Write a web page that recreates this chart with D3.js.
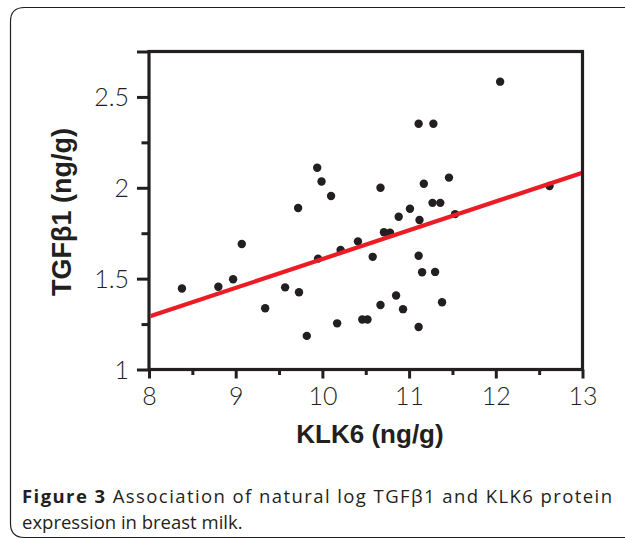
<!DOCTYPE html>
<html>
<head>
<meta charset="utf-8">
<script src="https://cdn.jsdelivr.net/npm/d3@7"></script>
<style>
  html, body { margin: 0; padding: 0; background: #fff; }
  svg { display: block; }
</style>
</head>
<body>
<svg id="chart" width="625" height="542"></svg>
<script>
// ---- data ----
const klk6 = [8.38, 8.80, 8.97, 9.07, 9.34, 9.57, 9.72, 9.73, 9.82, 9.94, 9.99, 9.95, 10.10, 10.17,
  10.21, 10.41, 10.46, 10.52, 10.58, 10.67, 10.67, 10.71, 10.78, 10.85, 10.88, 10.93, 11.01,
  11.11, 11.12, 11.11, 11.11, 11.17, 11.15, 11.28, 11.27, 11.36, 11.30, 11.38, 11.46, 11.53,
  12.05, 12.62];
const tgfb1 = [1.446, 1.455, 1.497, 1.691, 1.337, 1.452, 1.889, 1.425, 1.185, 2.110, 2.035, 1.610,
  1.955, 1.254, 1.658, 1.705, 1.275, 1.275, 1.620, 1.355, 2.000, 1.755, 1.753, 1.407, 1.841,
  1.332, 1.885, 2.352, 1.823, 1.626, 1.234, 2.022, 1.535, 2.352, 1.917, 1.917, 1.537, 1.370,
  2.056, 1.855, 2.584, 2.010];
const fitX = [8, 13];
const fitY = [1.291, 2.083];
const xMajorTicks = [8, 9, 10, 11, 12, 13];
const xMinorTicks = [8.5, 9.5, 10.5, 11.5, 12.5];
const yMajorTicks = [1, 1.5, 2, 2.5, 2.75];
const yMinorTicks = [1.25, 1.75, 2.25];
const yTickLabels = ["1", "1.5", "2", "2.5", ""];
const xLabel = "KLK6 (ng/g)";
const yLabel = "TGFβ1 (ng/g)";
const captionBold = "Figure 3";
const captionLine1 = " Association of natural log TGFβ1 and KLK6 protein";
const captionLine2 = "expression in breast milk.";

// ---- layout ----
const ink = "#231f20";
const svg = d3.select("#chart");
const L = 149, R = 582.5, T = 51.5, B = 369.5;
const x = d3.scaleLinear().domain([8, 13]).range([L, R]);
const y = d3.scaleLinear().domain([1, 2.75]).range([B, T]);

// outer rounded border (open on the right)
const r = 14;
svg.append("path")
  .attr("d", `M 640 7.5 H ${10.5 + r} Q 10.5 7.5 10.5 ${7.5 + r} V ${537.5 - r} Q 10.5 537.5 ${10.5 + r} 537.5 H 640`)
  .attr("fill", "none").attr("stroke", ink).attr("stroke-width", 1.2);

const tickFont = "Lato, 'Liberation Sans', sans-serif";

// x axis
const xAxisMajor = d3.axisBottom(x).tickValues(xMajorTicks).tickSize(9).tickPadding(7)
  .tickFormat(d3.format("d"));
const gx = svg.append("g").attr("transform", `translate(0,${B})`).call(xAxisMajor);
gx.select(".domain").remove();
gx.selectAll("line").attr("stroke", ink).attr("stroke-width", 3);
gx.selectAll("text").attr("fill", ink).attr("font-family", tickFont).attr("font-weight", 300)
  .attr("font-size", 25).attr("dy", "0.78em");
const gxm = svg.append("g").attr("transform", `translate(0,${B})`)
  .call(d3.axisBottom(x).tickValues(xMinorTicks).tickSize(5.5).tickFormat(""));
gxm.select(".domain").remove();
gxm.selectAll("line").attr("stroke", ink).attr("stroke-width", 3);

// y axis
const yAxisMajor = d3.axisLeft(y).tickValues(yMajorTicks).tickSize(12).tickPadding(8)
  .tickFormat((d, i) => yTickLabels[i]);
const gy = svg.append("g").attr("transform", `translate(${L},0)`).call(yAxisMajor);
gy.select(".domain").remove();
gy.selectAll("line").attr("stroke", ink).attr("stroke-width", 3);
gy.selectAll("text").attr("fill", ink).attr("font-family", tickFont).attr("font-weight", 300)
  .attr("font-size", 25).attr("dy", "0.36em");
const gym = svg.append("g").attr("transform", `translate(${L},0)`)
  .call(d3.axisLeft(y).tickValues(yMinorTicks).tickSize(7.5).tickFormat(""));
gym.select(".domain").remove();
gym.selectAll("line").attr("stroke", ink).attr("stroke-width", 3);

// frame
svg.append("rect").attr("x", L).attr("y", T).attr("width", R - L).attr("height", B - T)
  .attr("fill", "none").attr("stroke", ink).attr("stroke-width", 3.2);

// clip
svg.append("clipPath").attr("id", "plotclip").append("rect")
  .attr("x", L + 1.5).attr("y", T + 1.5).attr("width", R - L - 3).attr("height", B - T - 3);

// points
const pts = klk6.map((v, i) => ({ x: v, y: tgfb1[i] }));
svg.append("g").attr("clip-path", "url(#plotclip)")
  .selectAll("circle").data(pts).join("circle")
  .attr("cx", d => x(d.x)).attr("cy", d => y(d.y)).attr("r", 4.2).attr("fill", ink);

// regression line
const fit = fitX.map((v, i) => [v, fitY[i]]);
svg.append("path").attr("clip-path", "url(#plotclip)")
  .datum(fit)
  .attr("d", d3.line().x(d => x(d[0])).y(d => y(d[1])))
  .attr("fill", "none").attr("stroke", "#ed1c24").attr("stroke-width", 4.2);

// axis titles
svg.append("text").attr("x", 370).attr("y", 443).attr("text-anchor", "middle")
  .attr("font-family", "'Liberation Sans', Arial, sans-serif").attr("font-weight", "bold")
  .attr("font-size", 26).attr("fill", ink).text(xLabel);
svg.append("text").attr("transform", "translate(71,212) rotate(-90)").attr("text-anchor", "middle")
  .attr("font-family", "'Liberation Sans', Arial, sans-serif").attr("font-weight", "bold")
  .attr("font-size", 27).attr("fill", ink).text(yLabel);

// caption
const capFont = "'Open Sans', 'Noto Sans', sans-serif";
const cap1 = svg.append("text").attr("x", 22).attr("y", 503)
  .attr("font-family", capFont).attr("font-size", 18.5).attr("fill", ink)
  .attr("textLength", 590).attr("lengthAdjust", "spacing");
cap1.append("tspan").attr("font-weight", "bold").text(captionBold);
cap1.append("tspan").text(captionLine1);
svg.append("text").attr("x", 22).attr("y", 529)
  .attr("font-family", capFont).attr("font-size", 18.5).attr("fill", ink).text(captionLine2);
</script>
</body>
</html>
